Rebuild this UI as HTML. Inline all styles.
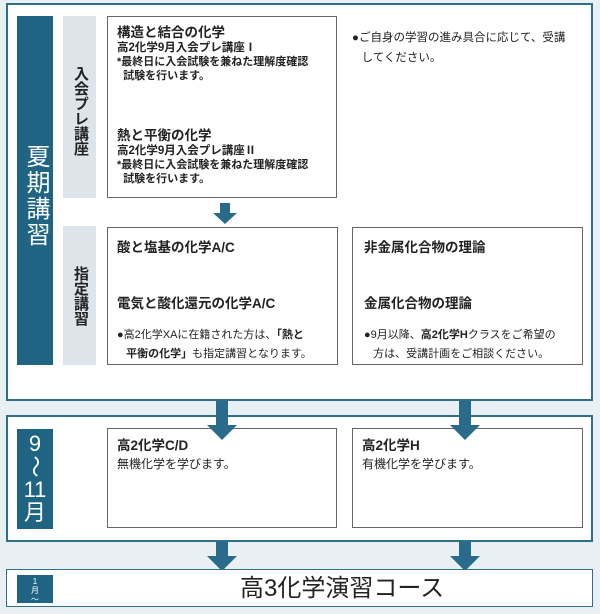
<!DOCTYPE html>
<html><head><meta charset="utf-8"><style>
body{margin:0;width:600px;height:614px;background:#e8f0f4;position:relative;overflow:hidden;font-family:"Liberation Sans","Noto Sans CJK JP",sans-serif;color:#222}
.a{position:absolute;box-sizing:border-box}
.frame{border:2px solid #2f6f8c;background:#fff}
.dark{background:#1f6583;color:#fff}
.gray{background:#dde5ea;color:#222}
.box{border:1.5px solid #666;background:#fff}
.vt{writing-mode:vertical-rl;text-orientation:upright;font-weight:bold}
.b{font-weight:bold}
p{margin:0}
.arrow{position:absolute}
</style></head><body>
<div class="a frame" style="left:6px;top:3px;width:587px;height:398px"></div>
<div class="a dark" style="left:17px;top:16px;width:36px;height:349px"><div class="vt" style="position:absolute;left:5px;top:128px;font-size:24px;line-height:26px;letter-spacing:2px;font-weight:normal">夏期講習</div></div>
<div class="a gray" style="left:63px;top:16px;width:33px;height:182px"><div class="vt" style="position:absolute;left:7px;top:50px;font-size:15px">入会プレ講座</div></div>
<div class="a gray" style="left:63px;top:226px;width:33px;height:139px"><div class="vt" style="position:absolute;left:7px;top:40px;font-size:15px">指定講習</div></div>
<div class="a box" style="left:107px;top:16px;width:230px;height:182px;padding:8px 0 0 9px;font-size:11px;line-height:14px;font-weight:bold">
<p class="b" style="font-size:13.5px;line-height:16px">構造と結合の化学</p>
<p class="b" style="font-size:11.5px">高2化学9月入会プレ講座Ⅰ</p>
<p>*最終日に入会試験を兼ねた理解度確認</p><p>&nbsp;&nbsp;試験を行います。</p>
<p class="b" style="font-size:13.5px;line-height:16px;margin-top:45px">熱と平衡の化学</p>
<p class="b" style="font-size:11.5px">高2化学9月入会プレ講座Ⅱ</p>
<p>*最終日に入会試験を兼ねた理解度確認</p><p>&nbsp;&nbsp;試験を行います。</p>
</div>
<div class="a" style="left:352px;top:28px;font-size:11.5px;line-height:20px">●ご自身の学習の進み具合に応じて、受講<br>&nbsp;&nbsp;&nbsp;してください。</div>
<svg class="arrow" style="left:210px;top:203px" width="30" height="22"><rect x="10" y="0" width="10" height="10" fill="#2a6a8a"/><polygon points="3,10 27,10 15,21" fill="#2a6a8a"/></svg>
<div class="a box" style="left:107px;top:227px;width:231px;height:138px;padding:8px 0 0 9px;font-size:11px">
<p class="b" style="font-size:13.5px">酸と塩基の化学A/C</p>
<p class="b" style="font-size:13.5px;margin-top:36px">電気と酸化還元の化学A/C</p>
<p style="margin-top:13px;line-height:20px">●高2化学XAに在籍された方は、<b>「熱と</b></p>
<p style="line-height:18px">&nbsp;&nbsp;&nbsp;<b>平衡の化学」</b>も指定講習となります。</p>
</div>
<div class="a box" style="left:352px;top:227px;width:231px;height:138px;padding:8px 0 0 11px;font-size:11px">
<p class="b" style="font-size:13.5px">非金属化合物の理論</p>
<p class="b" style="font-size:13.5px;margin-top:36px">金属化合物の理論</p>
<p style="margin-top:13px;line-height:20px">●9月以降、<b>高2化学H</b>クラスをご希望の</p>
<p style="line-height:18px">&nbsp;&nbsp;&nbsp;方は、受講計画をご相談ください。</p>
</div>
<div class="a frame" style="left:6px;top:415px;width:587px;height:127px"></div>
<div class="a dark" style="left:17px;top:429px;width:36px;height:100px;font-size:22px;text-align:center;line-height:23px;padding-top:3px">9<br><span style="display:inline-block;transform:rotate(90deg)">〜</span><br>11<br>月</div>
<div class="a box" style="left:107px;top:428px;width:230px;height:100px;padding:8px 0 0 9px;font-size:12px;line-height:18px"><p class="b" style="font-size:13.5px">高2化学C/D</p><p>無機化学を学びます。</p></div>
<div class="a box" style="left:352px;top:428px;width:231px;height:100px;padding:8px 0 0 9px;font-size:12px;line-height:18px"><p class="b" style="font-size:13.5px">高2化学H</p><p>有機化学を学びます。</p></div>
<svg class="arrow" style="left:207px;top:401px" width="30" height="40"><rect x="9" y="0" width="12" height="24" fill="#2a6a8a"/><polygon points="0,24 30,24 15,39" fill="#2a6a8a"/></svg>
<svg class="arrow" style="left:450px;top:401px" width="30" height="40"><rect x="9" y="0" width="12" height="24" fill="#2a6a8a"/><polygon points="0,24 30,24 15,39" fill="#2a6a8a"/></svg>
<svg class="arrow" style="left:207px;top:542px" width="30" height="30"><rect x="9" y="0" width="12" height="14" fill="#2a6a8a"/><polygon points="0,14 30,14 15,29" fill="#2a6a8a"/></svg>
<svg class="arrow" style="left:450px;top:542px" width="30" height="30"><rect x="9" y="0" width="12" height="14" fill="#2a6a8a"/><polygon points="0,14 30,14 15,29" fill="#2a6a8a"/></svg>
<div class="a frame" style="left:6px;top:569px;width:587px;height:38px;border-width:1.5px"></div>
<div class="a dark" style="left:17px;top:575px;width:36px;height:28px;font-size:8px;text-align:center;line-height:9px;padding-top:2px">1<br>月<br>〜</div>
<div class="a" style="left:240px;top:574px;font-size:24px;line-height:30px">高3化学演習コース</div>
</body></html>
